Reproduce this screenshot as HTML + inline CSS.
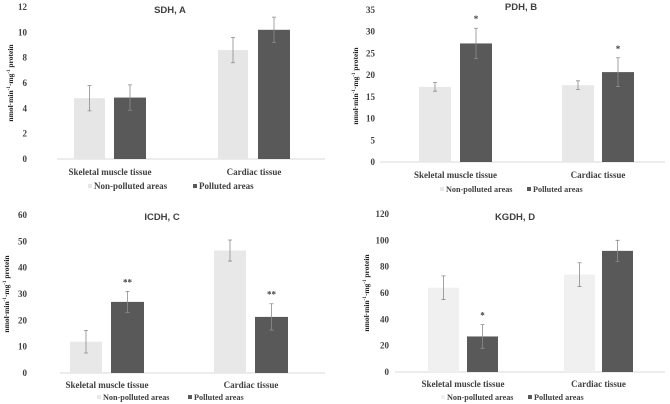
<!DOCTYPE html>
<html><head><meta charset="utf-8">
<style>
body{margin:0;background:#fff;}
svg{display:block;font-family:"Liberation Serif",serif;font-weight:bold;}
</style></head>
<body>
<svg id="chart" width="670" height="404" viewBox="0 0 670 404" xmlns="http://www.w3.org/2000/svg"></svg>
<script>
const categories = ["Skeletal muscle tissue", "Cardiac tissue"];
const seriesNames = ["Non-polluted areas", "Polluted areas"];
const titles = ["SDH, A", "PDH, B", "ICDH, C", "KGDH, D"];
const yMaxes = [12, 35, 60, 120];
const yStepsArr = [2, 5, 10, 20];
const nonPolluted = [[4.8, 8.6], [17.3, 17.7], [11.9, 46.5], [64, 74]];
const polluted = [[4.85, 10.2], [27.3, 20.7], [27, 21.3], [27, 92]];
const nonPollutedErr = [[1.0, 1.0], [1.0, 1.0], [4.3, 4.0], [9, 9]];
const pollutedErr = [[1.0, 1.0], [3.5, 3.3], [4.0, 5.0], [9, 8]];
const nonPollutedStars = [["", ""], ["", ""], ["", ""], ["", ""]];
const pollutedStars = [["", ""], ["*", "*"], ["**", "**"], ["*", ""]];

const layouts = [
 {y0:159,yTop:7,axL:57,axR:325,tickX:27,ylabX:10,cat:[[74,105],[114,146],[218,248],[258,290]],catY:172,legY:189,titleX:170,titleY:10,legX:88,legGap:105,lightFill:"#e6e6e6"},
 {y0:162,yTop:10,axL:380,axR:665,tickX:375,ylabX:355,cat:[[419,451],[460,492],[562,594],[602,634]],catY:175,legY:192,titleX:521,titleY:7,legX:440,legGap:87,lightFill:"#e8e8e8"},
 {y0:373,yTop:215,axL:60,axR:325,tickX:27,ylabX:6,cat:[[70,102],[111,144],[214,246],[255,288]],catY:385,legY:400,titleX:162,titleY:217,legX:97,legGap:91,lightFill:"#e8e8e8"},
 {y0:372,yTop:214,axL:395,axR:665,tickX:389,ylabX:366,cat:[[428,459],[467,498],[564,595],[602,633]],catY:384,legY:400,titleX:515,titleY:217,legX:441,legGap:87,lightFill:"#f0f0f0"}
];
const NS="http://www.w3.org/2000/svg";
const svg=document.getElementById('chart');
function mk(tag,attrs,parent){const e=document.createElementNS(NS,tag);for(const k in attrs)e.setAttribute(k,attrs[k]);(parent||svg).appendChild(e);return e;}

for(let p=0;p<4;p++){
 const L=layouts[p];
 const g=mk('g',{});
 
 
 const ys=v=>L.y0-(v/yMaxes[p])*(L.y0-L.yTop);
 const t=mk('text',{x:L.titleX,y:L.titleY+3,'text-anchor':'middle','font-size':'9.5','font-family':'Liberation Sans, sans-serif',fill:'#404040'},g);
 t.textContent=titles[p];
 
 
 for(let v=0;v<=yMaxes[p];v+=yStepsArr[p]){
  const tt=mk('text',{x:L.tickX,y:ys(v)+3,'text-anchor':'end','font-size':'9',fill:'#404040'},g);
  tt.textContent=v;
  
  
 }
 const yl=mk('text',{x:0,y:0,'text-anchor':'middle','font-size':'7.5',fill:'#222',transform:`translate(${L.ylabX+3},${(L.y0+L.yTop)/2}) rotate(-90)`},g);
 yl.innerHTML='nmol·min<tspan dy="-3" font-size="5">-1</tspan><tspan dy="3">·mg</tspan><tspan dy="-3" font-size="5">-1</tspan><tspan dy="3"> protein</tspan>';
 
 
 const ax=mk('line',{x1:L.axL,x2:L.axR,y1:L.y0,y2:L.y0,stroke:'#d9d9d9','stroke-width':1},g);
 
 
 for(let c=0;c<2;c++){
  const vals=[nonPolluted[p][c],polluted[p][c]];
  const errs=[nonPollutedErr[p][c],pollutedErr[p][c]];
  const stars=[nonPollutedStars[p][c],pollutedStars[p][c]];
  for(let s=0;s<2;s++){
   const [x1,x2]=L.cat[c*2+s];
   const top=ys(vals[s]);
   const r=mk('rect',{x:x1,y:top,width:x2-x1,height:L.y0-top,fill:s?'#595959':L.lightFill},g);
   
   
   const cx=(x1+x2)/2,eh=ys(vals[s]+errs[s]),el=ys(vals[s]-errs[s]);
   const eb=mk('path',{d:`M${cx},${eh}V${el}M${cx-2},${eh}H${cx+2}M${cx-2},${el}H${cx+2}`,stroke:'#8c8c8c','stroke-width':0.8,fill:'none'},g);
   
   
   if(stars[s]){
    const st=mk('text',{x:cx,y:eh-6,'text-anchor':'middle','font-size':'9',fill:'#404040'},g);
    st.textContent=stars[s];
    
    
   }
  }
  const cl=mk('text',{x:(L.cat[c*2][0]+L.cat[c*2+1][1])/2,y:L.catY+3,'text-anchor':'middle','font-size':'9',fill:'#404040'},g);
  cl.textContent=categories[c];
  
  
 }
 let lx=L.legX;
 for(let s=0;s<2;s++){
  const lg=mk('g',{},g);
  
  
  mk('rect',{x:lx,y:L.legY-5,width:4,height:4,fill:s?'#595959':L.lightFill},lg);
  const lt=mk('text',{x:lx+6,y:L.legY,'font-size':(p===0?'9':'8.2'),fill:'#404040'},lg);
  lt.textContent=seriesNames[s];
  lx+=L.legGap;
 }
}
</script>
</body></html>
